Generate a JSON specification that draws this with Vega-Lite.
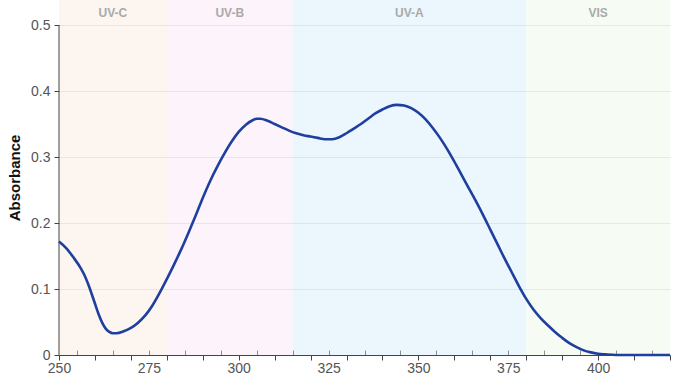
{
  "$schema": "https://vega.github.io/schema/vega-lite/v6.json",
  "width": 611,
  "height": 355,
  "autosize": {"type": "none"},
  "padding": {"left": 59, "top": 0, "right": 12, "bottom": 28},
  "background": "white",
  "config": {
    "view": {"stroke": null},
    "font": "Liberation Sans"
  },
  "datasets": {
    "bands": [
      {"band": "UV-C", "start": 250, "end": 280, "mid": 265},
      {"band": "UV-B", "start": 280, "end": 315, "mid": 297.5},
      {"band": "UV-A", "start": 315, "end": 380, "mid": 347.5},
      {"band": "VIS", "start": 380, "end": 420, "mid": 400}
    ],
    "spectrum": [
      {"wl": 250, "abs": 0.172}, {"wl": 252, "abs": 0.162}, {"wl": 254, "abs": 0.148},
      {"wl": 256, "abs": 0.132}, {"wl": 257, "abs": 0.122}, {"wl": 258, "abs": 0.109},
      {"wl": 259, "abs": 0.094}, {"wl": 260, "abs": 0.078}, {"wl": 261, "abs": 0.062},
      {"wl": 262, "abs": 0.049}, {"wl": 263, "abs": 0.040}, {"wl": 264, "abs": 0.035},
      {"wl": 265, "abs": 0.033}, {"wl": 266, "abs": 0.033}, {"wl": 268, "abs": 0.036},
      {"wl": 270, "abs": 0.041}, {"wl": 272, "abs": 0.049}, {"wl": 274, "abs": 0.060},
      {"wl": 276, "abs": 0.075}, {"wl": 278, "abs": 0.094}, {"wl": 280, "abs": 0.115},
      {"wl": 282, "abs": 0.137}, {"wl": 284, "abs": 0.160}, {"wl": 286, "abs": 0.185},
      {"wl": 288, "abs": 0.211}, {"wl": 290, "abs": 0.238}, {"wl": 292, "abs": 0.263},
      {"wl": 294, "abs": 0.285}, {"wl": 296, "abs": 0.305}, {"wl": 298, "abs": 0.323},
      {"wl": 300, "abs": 0.338}, {"wl": 302, "abs": 0.349}, {"wl": 304, "abs": 0.356},
      {"wl": 305, "abs": 0.358}, {"wl": 306, "abs": 0.358}, {"wl": 308, "abs": 0.355},
      {"wl": 310, "abs": 0.350}, {"wl": 312, "abs": 0.345}, {"wl": 314, "abs": 0.340},
      {"wl": 316, "abs": 0.336}, {"wl": 318, "abs": 0.333}, {"wl": 320, "abs": 0.331},
      {"wl": 322, "abs": 0.329}, {"wl": 324, "abs": 0.327}, {"wl": 326, "abs": 0.327},
      {"wl": 328, "abs": 0.330}, {"wl": 330, "abs": 0.336}, {"wl": 332, "abs": 0.343},
      {"wl": 334, "abs": 0.350}, {"wl": 336, "abs": 0.358}, {"wl": 338, "abs": 0.366},
      {"wl": 340, "abs": 0.372}, {"wl": 342, "abs": 0.377}, {"wl": 344, "abs": 0.379},
      {"wl": 346, "abs": 0.378}, {"wl": 348, "abs": 0.374}, {"wl": 350, "abs": 0.367},
      {"wl": 352, "abs": 0.357}, {"wl": 354, "abs": 0.344}, {"wl": 356, "abs": 0.329},
      {"wl": 358, "abs": 0.312}, {"wl": 360, "abs": 0.293}, {"wl": 362, "abs": 0.273},
      {"wl": 364, "abs": 0.253}, {"wl": 366, "abs": 0.233}, {"wl": 368, "abs": 0.212},
      {"wl": 370, "abs": 0.190}, {"wl": 372, "abs": 0.168}, {"wl": 374, "abs": 0.146},
      {"wl": 376, "abs": 0.125}, {"wl": 378, "abs": 0.104}, {"wl": 380, "abs": 0.085},
      {"wl": 382, "abs": 0.069}, {"wl": 384, "abs": 0.056}, {"wl": 386, "abs": 0.045},
      {"wl": 388, "abs": 0.035}, {"wl": 390, "abs": 0.026}, {"wl": 392, "abs": 0.018},
      {"wl": 394, "abs": 0.012}, {"wl": 396, "abs": 0.007}, {"wl": 398, "abs": 0.004},
      {"wl": 400, "abs": 0.002}, {"wl": 402, "abs": 0.001}, {"wl": 405, "abs": 0.0},
      {"wl": 410, "abs": 0.0}, {"wl": 415, "abs": 0.0}, {"wl": 420, "abs": 0.0}
    ],
    "yaxis": [{"x": 250, "y0": 0, "y1": 0.5}]
  },
  "resolve": {"scale": {"color": "independent"}, "axis": {"x": "independent"}},
  "layer": [
    {
      "data": {"name": "bands"},
      "mark": {"type": "rect", "opacity": 0.45},
      "encoding": {
        "x": {
          "field": "start", "type": "quantitative",
          "scale": {"domain": [250, 420], "nice": false, "zero": false},
          "axis": null
        },
        "x2": {"field": "end"},
        "color": {
          "field": "band", "type": "nominal", "legend": null,
          "scale": {"domain": ["UV-C", "UV-B", "UV-A", "VIS"], "range": ["#fbe8dc", "#fbe5f6", "#d2edf9", "#ecf8e6"]}
        }
      }
    },
    {
      "data": {"name": "bands"},
      "mark": {"type": "text", "fontSize": 12, "fontWeight": "bold", "color": "#aaaaaa", "baseline": "middle"},
      "encoding": {
        "x": {"field": "mid", "type": "quantitative", "axis": null},
        "y": {"datum": 0.518, "type": "quantitative"},
        "text": {"field": "band"}
      }
    },
    {
      "data": {"name": "yaxis"},
      "mark": {"type": "rule", "color": "#444", "strokeWidth": 1},
      "encoding": {
        "x": {
          "field": "x", "type": "quantitative",
          "axis": {
            "orient": "bottom",
            "title": null,
            "values": [255,265,275,285,295,305,315,325,335,345,355,365,375,385,395,405,415],
            "labels": false,
            "grid": false,
            "domain": false,
            "tickColor": "#444",
            "tickSize": -5
          }
        },
        "y": {"field": "y0", "type": "quantitative"},
        "y2": {"field": "y1"}
      }
    },
    {
      "data": {"name": "spectrum"},
      "mark": {"type": "line", "color": "#1f3f9f", "strokeWidth": 2.6, "interpolate": "monotone"},
      "encoding": {
        "x": {
          "field": "wl", "type": "quantitative",
          "axis": {
            "orient": "bottom",
            "title": null,
            "values": [250,255,260,265,270,275,280,285,290,295,300,305,310,315,320,325,330,335,340,345,350,355,360,365,370,375,380,385,390,395,400,405,410,415,420],
            "labelExpr": "datum.value % 25 === 0 ? datum.value : ''",
            "labelFontSize": 14,
            "labelColor": "#555",
            "labelPadding": 1,
            "labelOverlap": false,
            "labelFlush": false,
            "grid": false,
            "domainColor": "#444",
            "tickColor": "#444",
            "tickSize": 5,
            "tickOpacity": {"condition": {"test": "datum.value % 10 === 0", "value": 1}, "value": 0}
          }
        },
        "y": {
          "field": "abs", "type": "quantitative",
          "scale": {"domain": [0, 0.5379], "nice": false},
          "axis": {
            "title": "Absorbance",
            "titleFontSize": 15,
            "titleFontWeight": "bold",
            "titleColor": "#111",
            "titlePadding": 8,
            "values": [0, 0.05, 0.1, 0.15, 0.2, 0.25, 0.3, 0.35, 0.4, 0.45, 0.5],
            "labelExpr": "round(datum.value * 100) % 10 === 0 ? format(datum.value, '~g') : ''",
            "labelFontSize": 14,
            "labelColor": "#555",
            "labelPadding": 4,
            "domain": false,
            "tickColor": "#444",
            "tickSize": 5,
            "grid": true,
            "gridColor": "#e0e0e0",
            "gridWidth": 1
          }
        }
      }
    }
  ]
}
